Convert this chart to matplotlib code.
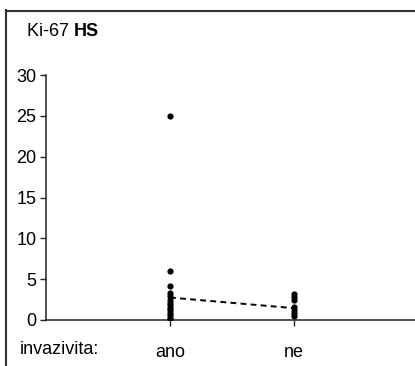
import matplotlib
matplotlib.use("Agg")
import matplotlib.pyplot as plt
from matplotlib.lines import Line2D

plt.rcParams['font.family'] = ['Liberation Sans', 'DejaVu Sans']

categories = ["ano", "ne"]
ano_values = [25, 6, 4.2, 3.3, 2.9, 2.5, 2.1, 1.8, 1.5, 1.2, 0.9, 0.6, 0.3, 0.1]
ne_values = [3.2, 2.8, 2.4, 1.6, 1.2, 0.8, 0.5]
line_values = [2.75, 1.45]
yticks = [0, 5, 10, 15, 20, 25, 30]

W, H = 415, 366
FS = 13
fig = plt.figure(figsize=(W / 100, H / 100), dpi=100)
ax = fig.add_axes([46 / W, 1 - 320 / H, (W - 46) / W, (320 - 75) / H])

xs = [1, 2]
ax.scatter([xs[0]] * len(ano_values), ano_values, s=20, color='black', zorder=3, linewidths=0)
ax.scatter([xs[1]] * len(ne_values), ne_values, s=20, color='black', zorder=3, linewidths=0)
ax.plot(xs, line_values, color='black', lw=1.4, dashes=[3, 2.2], zorder=2)

ax.set_xlim(0, (W - 46) / 124)
ax.set_ylim(0, 30)
ax.set_yticks(yticks)
ax.set_xticks(xs)
ax.set_xticklabels(categories)
ax.tick_params(axis='both', direction='out', length=4, width=1, color='#222222',
               labelsize=FS, labelcolor='black')
ax.tick_params(axis='x', pad=13)
ax.tick_params(axis='y', pad=3)
for s in ['top', 'right']:
    ax.spines[s].set_visible(False)
for s in ['left', 'bottom']:
    ax.spines[s].set_linewidth(1.1)
    ax.spines[s].set_color('#222222')

# outer frame (left and top edges visible)
fig.add_artist(Line2D([5.5 / W, 5.5 / W], [0, 1 - 10 / H], transform=fig.transFigure,
                      color='#333333', lw=1.5))
fig.add_artist(Line2D([5.5 / W, 1], [1 - 10.5 / H, 1 - 10.5 / H], transform=fig.transFigure,
                      color='#333333', lw=1.5))

fig.text(27 / W, 1 - 31 / H, "Ki-67 ", fontsize=FS, va='center', ha='left')
t = fig.text(27 / W, 1 - 31 / H, "Ki-67 ", fontsize=FS, va='center', ha='left', alpha=0)
fig.canvas.draw()
bb = t.get_window_extent()
fig.text(bb.x1 / W, 1 - 31 / H, "HS", fontsize=FS, fontweight='bold', va='center', ha='left')

fig.text(20 / W, 1 - 350 / H, "invazivita:", fontsize=FS, va='center', ha='left')

fig.savefig("out.png", dpi=100)
